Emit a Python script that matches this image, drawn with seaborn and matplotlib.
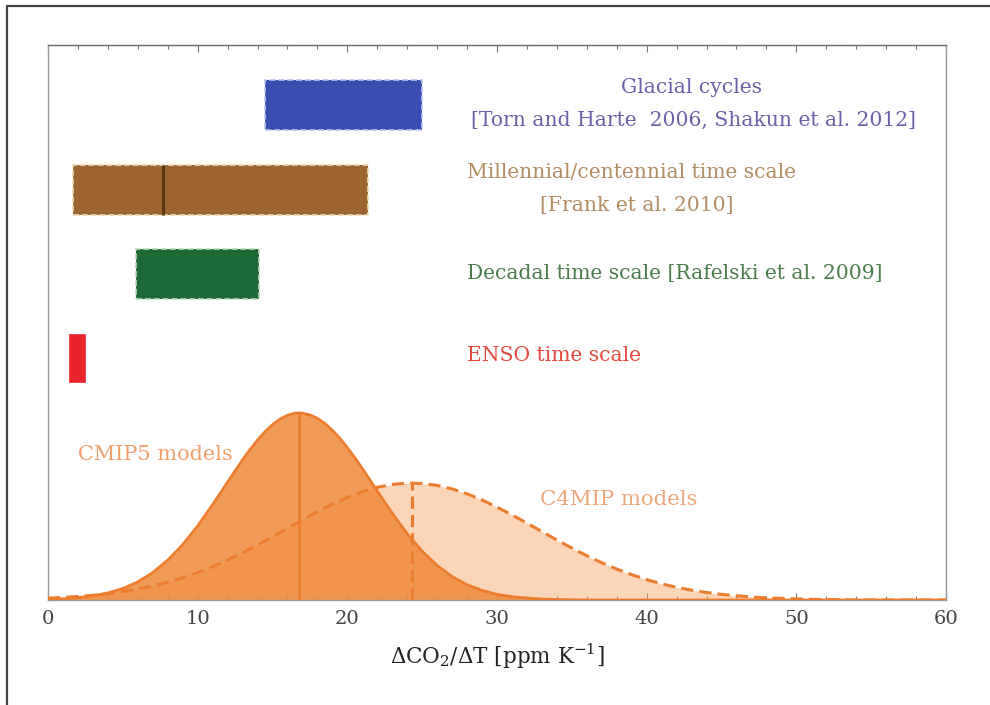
import numpy as np
import pandas as pd
import matplotlib
matplotlib.use("Agg")
import matplotlib.pyplot as plt
import seaborn as sns
from matplotlib.ticker import MultipleLocator
from matplotlib.lines import Line2D

# ---------------- data ----------------
cmip5_x = [0, 1, 2, 3, 4, 5, 6, 7, 8, 9, 10, 11, 11.5, 12, 12.5, 13, 13.5, 14, 14.5, 15,
           15.5, 16, 16.5, 16.8, 17, 17.5, 18, 18.5, 19, 19.5, 20, 20.5, 21, 21.5, 22, 22.5,
           23, 24, 25, 26, 27, 28, 29, 30, 31, 32, 33, 34, 35, 36, 60]
cmip5_density = [0.0003, 0.0005, 0.0010, 0.0018, 0.0030, 0.0049, 0.0077, 0.0117, 0.0170, 0.0236,
                 0.0316, 0.0407, 0.0455, 0.0503, 0.0551, 0.0598, 0.0642, 0.0682, 0.0718, 0.0748,
                 0.0772, 0.0788, 0.0797, 0.0798, 0.0797, 0.0790, 0.0775, 0.0753, 0.0724, 0.0690,
                 0.0650, 0.0607, 0.0561, 0.0513, 0.0465, 0.0417,
                 0.0370, 0.0283, 0.0208, 0.0147, 0.0100, 0.0065, 0.0041, 0.0024, 0.0014, 0.0008,
                 0.0004, 0.0002, 0.0001, 0, 0]
c4mip_x = list(range(0, 61))
c4mip_density = [0.0008, 0.0011, 0.0015, 0.0020, 0.0027, 0.0036, 0.0047, 0.0060, 0.0076, 0.0095,
                 0.0117, 0.0142, 0.0171, 0.0202, 0.0235, 0.0270, 0.0306, 0.0342, 0.0377, 0.0409,
                 0.0438, 0.0462, 0.0481, 0.0493, 0.0499, 0.0497, 0.0489, 0.0474, 0.0453, 0.0427,
                 0.0396, 0.0363, 0.0328, 0.0292, 0.0256, 0.0222, 0.0189, 0.0159, 0.0132, 0.0108,
                 0.0087, 0.0069, 0.0054, 0.0042, 0.0032, 0.0024, 0.0018, 0.0013, 0.0009, 0.0007,
                 0.0005, 0.0003, 0.0002, 0.0001, 0, 0, 0, 0, 0, 0, 0]
cmip5_mean = 16.8
c4mip_mean = 24.3

range_names = ["Glacial cycles", "Millennial/centennial", "Decadal", "ENSO"]
range_low = [14.5, 1.7, 5.9, 1.5]
range_high = [25.0, 21.4, 14.1, 2.5]
millennial_mark = 7.7

x_ticks = [0, 10, 20, 30, 40, 50, 60]
x_label = r"$\Delta$CO$_2$/$\Delta$T [ppm K$^{-1}$]"

# ---------------- styling ----------------
sns.set_theme(style="white")
plt.rcParams["font.family"] = ["DejaVu Serif", "DejaVu Sans"]
plt.rcParams["mathtext.fontset"] = "dejavuserif"

fig = plt.figure(figsize=(9.9, 7.05), dpi=100)
ax = fig.add_axes([48 / 990, 1 - 600 / 705, (946 - 48) / 990, (600 - 45) / 705])

df5 = pd.DataFrame({"x": cmip5_x, "y": cmip5_density})
df4 = pd.DataFrame({"x": c4mip_x, "y": c4mip_density})

# C4MIP (behind)
ax.fill_between(df4["x"], 0, df4["y"], color="#f5a263", alpha=0.45, lw=0, zorder=1)
# CMIP5
ax.fill_between(df5["x"], 0, df5["y"], color="#f08a3a", alpha=0.85, lw=0, zorder=2)

sns.lineplot(data=df4, x="x", y="y", ax=ax, color="#ec7d2e", lw=2.2,
             linestyle=(0, (4, 2)), zorder=4)
sns.lineplot(data=df5, x="x", y="y", ax=ax, color="#ec7d2e", lw=2.0, zorder=5)

ax.vlines(cmip5_mean, 0, max(cmip5_density), color="#ec7d2e", lw=2.0, zorder=5)
ax.vlines(c4mip_mean, 0, max(c4mip_density), color="#ec7d2e", lw=2.2,
          linestyles=[(0, (4, 2))], zorder=4)

# ---------------- range bars ----------------
row_bottom = [0.2006, 0.1643, 0.1284, 0.0930]
row_height = [0.0213, 0.0213, 0.0213, 0.0201]
bar_face = ["#3a4db0", "#9c6531", "#1e6a36", "#e8252b"]
bar_edge = ["#b9c2ee", "#eedcb6", "#bcd8bf", "#e8252b"]
bar_ls = ["--", "--", "--", "-"]
for lo, hi, b, h, fc, ec, ls in zip(range_low, range_high, row_bottom, row_height,
                                     bar_face, bar_edge, bar_ls):
    ax.barh(b, hi - lo, left=lo, height=h, align="edge", color=fc,
            edgecolor=ec, linewidth=1.2, linestyle=ls, zorder=3)
ax.vlines(millennial_mark, row_bottom[1], row_bottom[1] + row_height[1],
          color="#5e3612", lw=2.2, zorder=4)

# ---------------- annotations ----------------
fs = 14.6
ax.text(43.0, 0.2185, "Glacial cycles", color="#6a62a8", fontsize=fs,
        ha="center", va="center")
ax.text(43.1, 0.2048, "[Torn and Harte  2006, Shakun et al. 2012]", color="#6a62a8",
        fontsize=fs, ha="center", va="center")
ax.text(28.0, 0.1826, "Millennial/centennial time scale", color="#b28c62", fontsize=fs,
        ha="left", va="center")
ax.text(32.9, 0.1685, "[Frank et al. 2010]", color="#b28c62", fontsize=fs,
        ha="left", va="center")
ax.text(28.0, 0.1395, "Decadal time scale [Rafelski et al. 2009]", color="#4b7c4b",
        fontsize=fs, ha="left", va="center")
ax.text(28.0, 0.1045, "ENSO time scale", color="#e4493c", fontsize=fs,
        ha="left", va="center")
ax.text(2.0, 0.0619, "CMIP5 models", color="#f0a06c", fontsize=15,
        ha="left", va="center", zorder=6)
ax.text(32.9, 0.0427, "C4MIP models", color="#eca77a", fontsize=15.3,
        ha="left", va="center", zorder=6)

# ---------------- axes ----------------
ax.set_xlim(0, 60)
ax.set_ylim(0, 0.2368)
ax.set_xticks(x_ticks)
ax.set_xticklabels([str(t) for t in x_ticks])
ax.xaxis.set_minor_locator(MultipleLocator(2))
ax.set_yticks([])
ax.set_ylabel("")
ax.set_xlabel(x_label, fontsize=15.5, color="#222222", labelpad=10)
ax.tick_params(axis="x", which="both", direction="in", top=True, bottom=True,
               colors="#777777", labelcolor="#444444", labelsize=14, pad=7)
ax.tick_params(axis="x", which="major", length=5, width=0.8)
ax.tick_params(axis="x", which="minor", length=3, width=0.8)
for s in ax.spines.values():
    s.set_color("#999999")
    s.set_linewidth(1.0)
ax.spines["top"].set_color("#666666")

# outer frame (top and left edges of the figure box)
fig.add_artist(Line2D([7 / 990, 1.0], [1 - 6 / 705, 1 - 6 / 705],
                      transform=fig.transFigure, color="#444444", lw=1.6))
fig.add_artist(Line2D([7 / 990, 7 / 990], [0.0, 1 - 6 / 705],
                      transform=fig.transFigure, color="#444444", lw=1.6))

fig.savefig("out.png", dpi=100)
